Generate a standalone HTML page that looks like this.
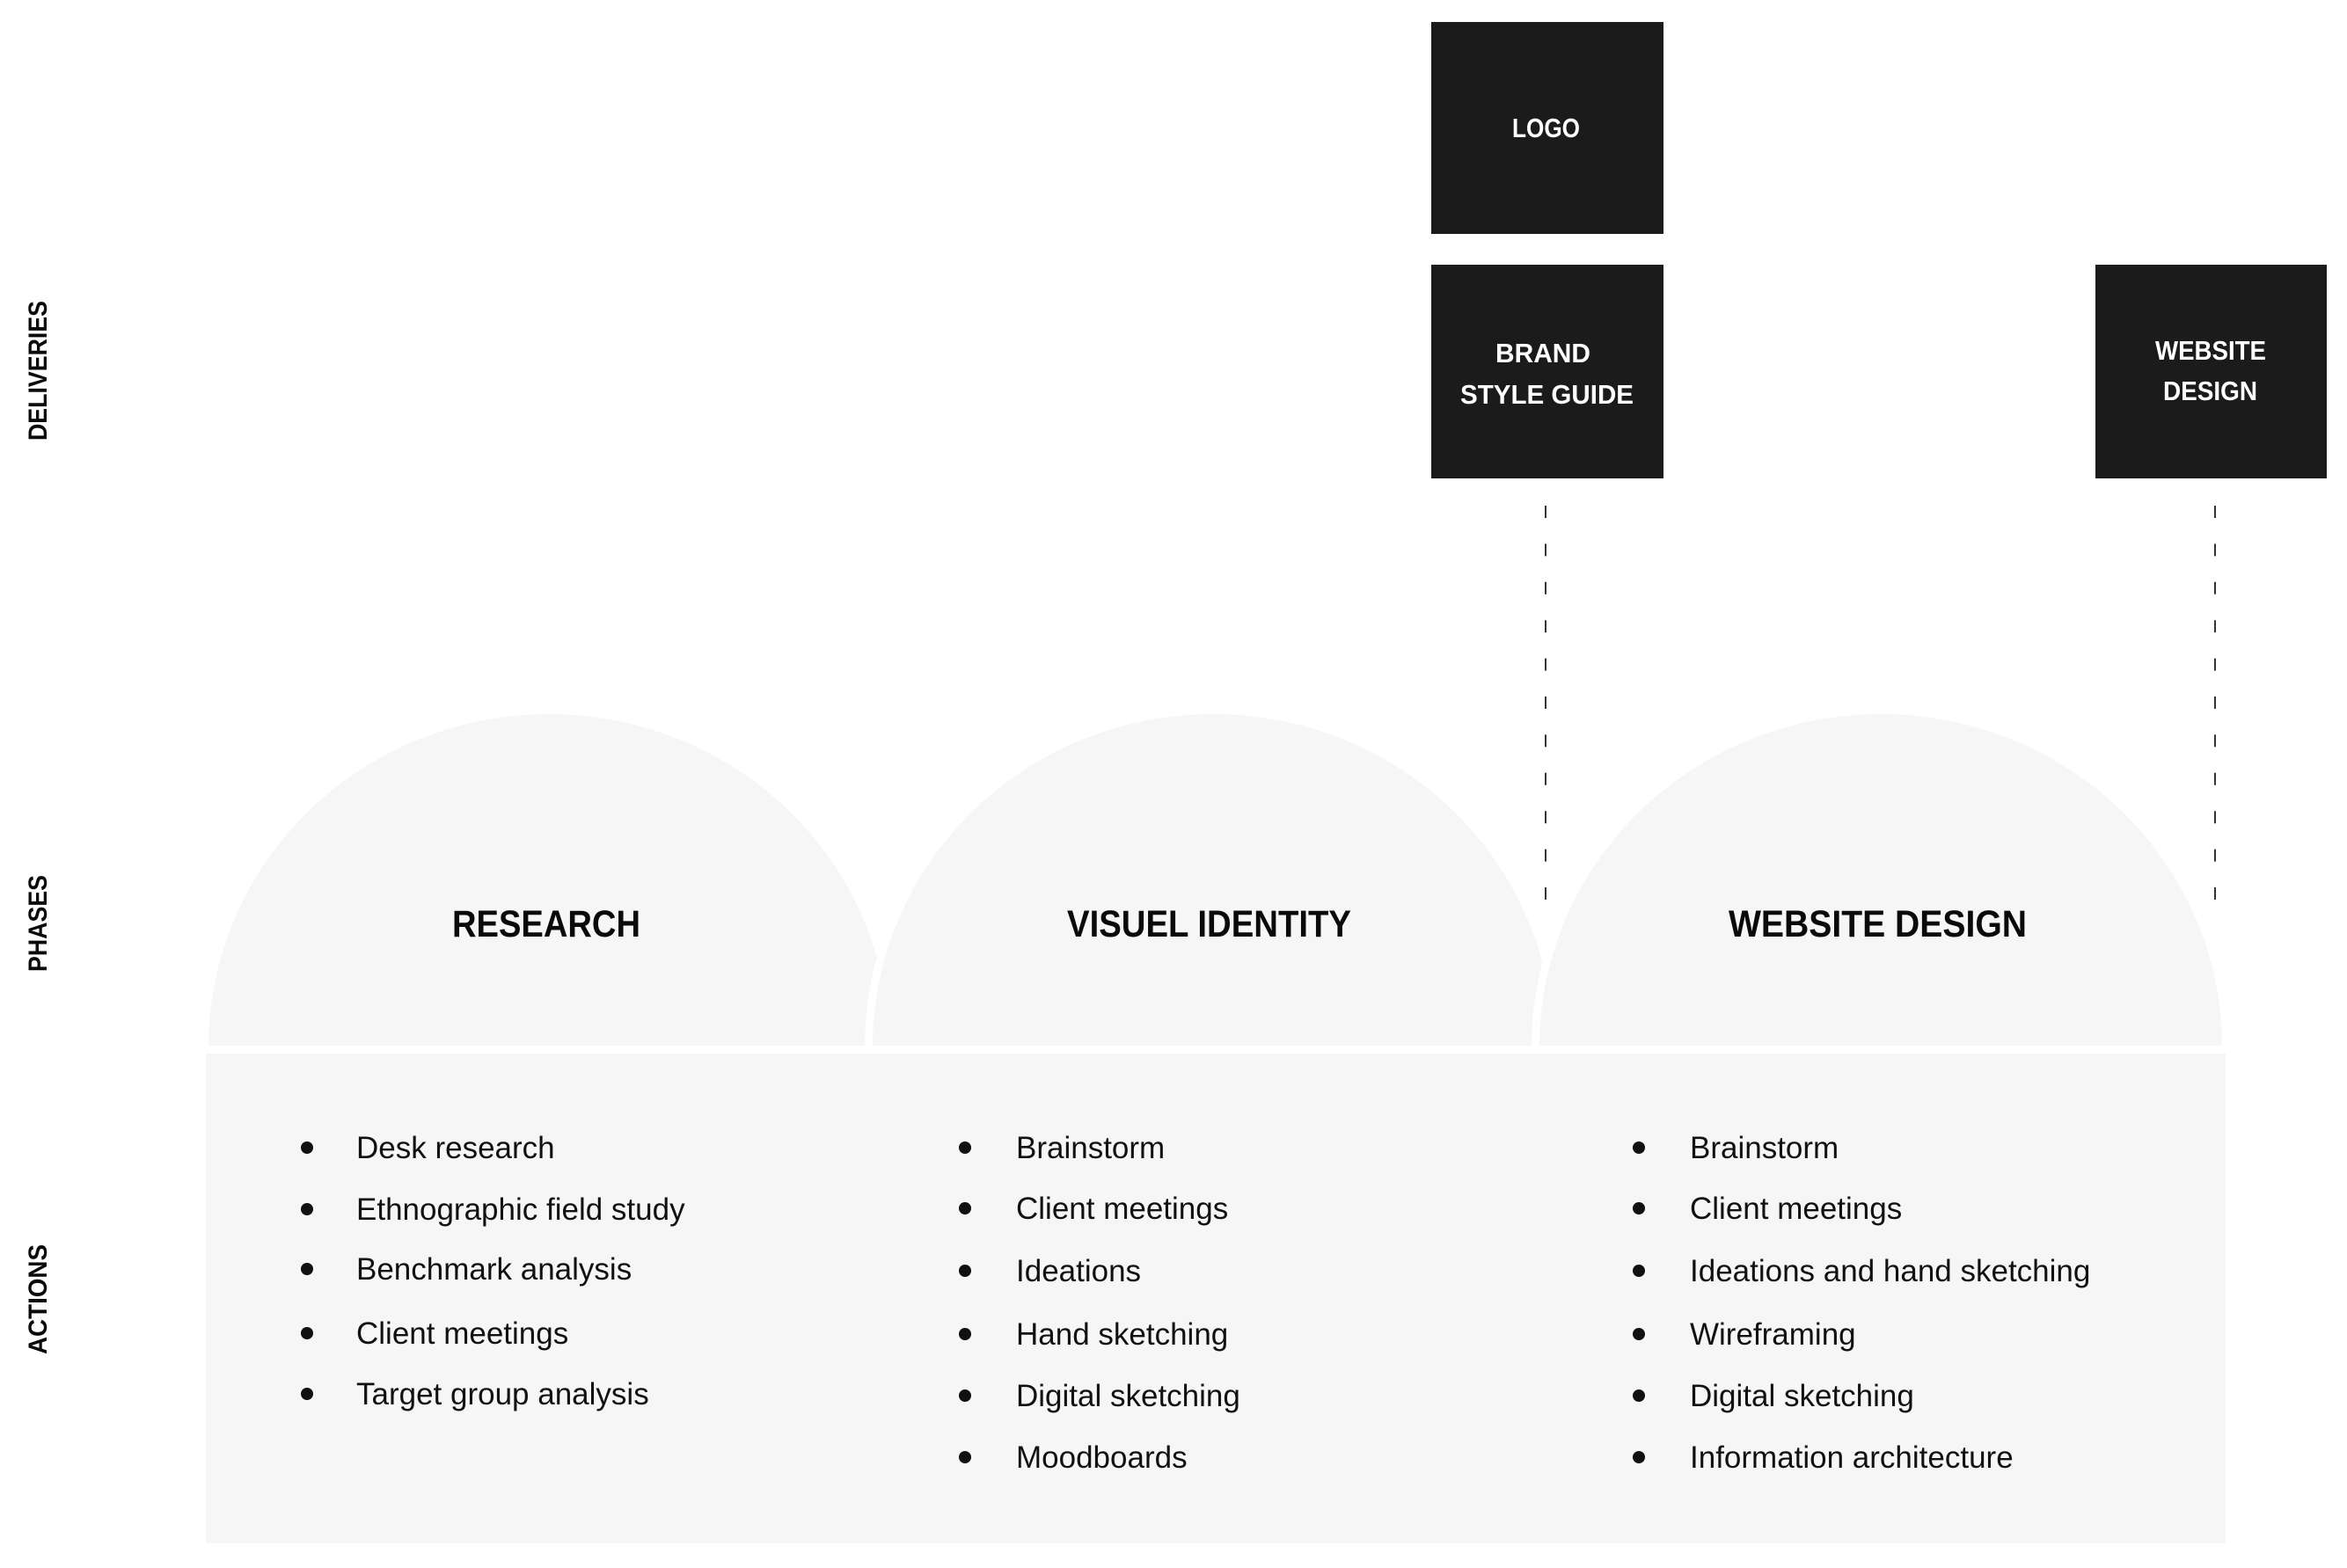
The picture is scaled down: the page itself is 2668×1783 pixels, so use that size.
<!DOCTYPE html>
<html>
<head>
<meta charset="utf-8">
<style>
  html, body { margin: 0; padding: 0; background: #ffffff; }
  body { width: 2668px; height: 1783px; overflow: hidden; }
  svg { display: block; }
  text { font-family: "Liberation Sans", "DejaVu Sans", sans-serif; }
  .item { font-size: 35px; fill: #111111; }
  .title { font-size: 43px; font-weight: bold; fill: #0a0a0a; }
  .box { font-size: 31px; font-weight: bold; fill: #ffffff; }
  .side { font-size: 30px; font-weight: bold; fill: #0a0a0a; }
</style>
</head>
<body>
<svg width="2668" height="1783" viewBox="0 0 2668 1783" xmlns="http://www.w3.org/2000/svg">
  <defs>
    <clipPath id="domeclip">
      <rect x="0" y="0" width="2668" height="1189"/>
    </clipPath>
  </defs>

  <rect x="0" y="0" width="2668" height="1783" fill="#ffffff"/>

  <!-- Deliverable boxes -->
  <rect x="1627" y="25" width="264" height="241" fill="#1b1b1b"/>
  <rect x="1627" y="301" width="264" height="243" fill="#1b1b1b"/>
  <rect x="2382" y="301" width="263" height="243" fill="#1b1b1b"/>

  <text class="box" x="1719" y="156" textLength="77" lengthAdjust="spacingAndGlyphs">LOGO</text>
  <text class="box" x="1700" y="412" textLength="108" lengthAdjust="spacingAndGlyphs">BRAND</text>
  <text class="box" x="1660" y="459" textLength="197" lengthAdjust="spacingAndGlyphs">STYLE GUIDE</text>
  <text class="box" x="2450" y="409" textLength="126" lengthAdjust="spacingAndGlyphs">WEBSITE</text>
  <text class="box" x="2459" y="455" textLength="107" lengthAdjust="spacingAndGlyphs">DESIGN</text>

  <!-- Dashed connectors -->
  <line x1="1757" y1="575" x2="1757" y2="1024" stroke="#333333" stroke-width="2" stroke-dasharray="14 29.4"/>
  <line x1="2518" y1="575" x2="2518" y2="1024" stroke="#333333" stroke-width="2" stroke-dasharray="14 29.4"/>

  <!-- Domes -->
  <g clip-path="url(#domeclip)">
    <ellipse cx="624" cy="1190" rx="387" ry="378" fill="#f6f6f6"/>
    <ellipse cx="1379" cy="1190" rx="396" ry="387" fill="#ffffff"/>
    <ellipse cx="1379" cy="1190" rx="387" ry="378" fill="#f6f6f6"/>
    <ellipse cx="2138" cy="1190" rx="397" ry="387" fill="#ffffff"/>
    <ellipse cx="2138" cy="1190" rx="388" ry="378" fill="#f6f6f6"/>
  </g>

  <!-- Actions panel -->
  <rect x="234" y="1198" width="2296" height="557" fill="#f6f6f6"/>

  <!-- Phase titles -->
  <text class="title" x="514" y="1065" textLength="214" lengthAdjust="spacingAndGlyphs">RESEARCH</text>
  <text class="title" x="1213" y="1065" textLength="323" lengthAdjust="spacingAndGlyphs">VISUEL IDENTITY</text>
  <text class="title" x="1965" y="1065" textLength="339" lengthAdjust="spacingAndGlyphs">WEBSITE DESIGN</text>

  <!-- Side labels -->
  <text class="side" transform="translate(53,501) rotate(-90)" x="0" y="0" textLength="159" lengthAdjust="spacingAndGlyphs">DELIVERIES</text>
  <text class="side" transform="translate(53,1105) rotate(-90)" x="0" y="0" textLength="110" lengthAdjust="spacingAndGlyphs">PHASES</text>
  <text class="side" transform="translate(53,1540) rotate(-90)" x="0" y="0" textLength="125" lengthAdjust="spacingAndGlyphs">ACTIONS</text>

  <!-- Column 1: Research -->
  <g fill="#111111">
    <circle cx="349" cy="1305" r="7"/>
    <circle cx="349" cy="1375" r="7"/>
    <circle cx="349" cy="1443" r="7"/>
    <circle cx="349" cy="1516" r="7"/>
    <circle cx="349" cy="1585" r="7"/>
  </g>
  <text class="item" x="405" y="1317">Desk research</text>
  <text class="item" x="405" y="1387">Ethnographic field study</text>
  <text class="item" x="405" y="1455">Benchmark analysis</text>
  <text class="item" x="405" y="1528">Client meetings</text>
  <text class="item" x="405" y="1597">Target group analysis</text>

  <!-- Column 2: Visuel identity -->
  <g fill="#111111">
    <circle cx="1097" cy="1305" r="7"/>
    <circle cx="1097" cy="1374" r="7"/>
    <circle cx="1097" cy="1445" r="7"/>
    <circle cx="1097" cy="1517" r="7"/>
    <circle cx="1097" cy="1587" r="7"/>
    <circle cx="1097" cy="1657" r="7"/>
  </g>
  <text class="item" x="1155" y="1317">Brainstorm</text>
  <text class="item" x="1155" y="1386">Client meetings</text>
  <text class="item" x="1155" y="1457">Ideations</text>
  <text class="item" x="1155" y="1529">Hand sketching</text>
  <text class="item" x="1155" y="1599">Digital sketching</text>
  <text class="item" x="1155" y="1669">Moodboards</text>

  <!-- Column 3: Website design -->
  <g fill="#111111">
    <circle cx="1863" cy="1305" r="7"/>
    <circle cx="1863" cy="1374" r="7"/>
    <circle cx="1863" cy="1445" r="7"/>
    <circle cx="1863" cy="1517" r="7"/>
    <circle cx="1863" cy="1587" r="7"/>
    <circle cx="1863" cy="1657" r="7"/>
  </g>
  <text class="item" x="1921" y="1317">Brainstorm</text>
  <text class="item" x="1921" y="1386">Client meetings</text>
  <text class="item" x="1921" y="1457">Ideations and hand sketching</text>
  <text class="item" x="1921" y="1529">Wireframing</text>
  <text class="item" x="1921" y="1599">Digital sketching</text>
  <text class="item" x="1921" y="1669">Information architecture</text>
</svg>
</body>
</html>
